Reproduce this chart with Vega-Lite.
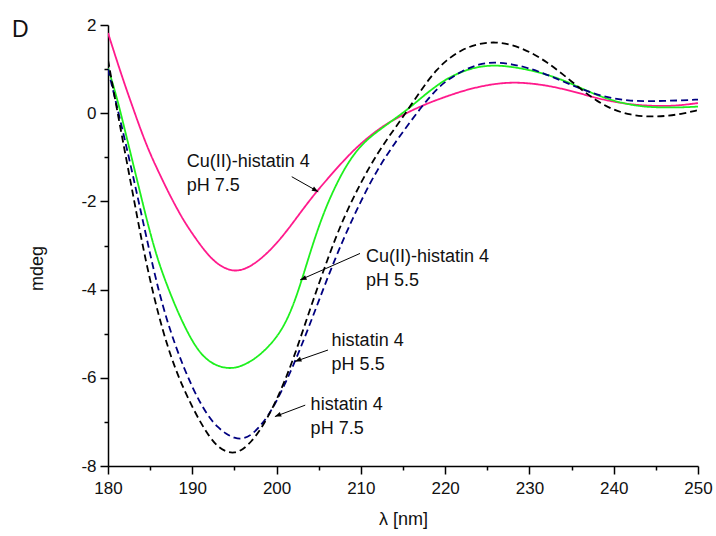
{
  "$schema": "https://vega.github.io/schema/vega-lite/v6.json",
  "width": 590,
  "height": 441,
  "autosize": {"type": "none"},
  "padding": {"left": 108, "top": 25, "right": 18, "bottom": 70},
  "background": "white",
  "config": {
    "view": {"stroke": null},
    "font": "Liberation Sans",
    "axis": {
      "domainColor": "#000000",
      "domainWidth": 1.5,
      "tickColor": "#000000",
      "tickWidth": 1.5,
      "labelFont": "Liberation Sans",
      "labelFontSize": 17,
      "labelColor": "#111111",
      "titleFont": "Liberation Sans",
      "titleFontSize": 18,
      "titleFontWeight": "normal",
      "titleColor": "#111111",
      "grid": false,
      "labelOverlap": false,
      "labelFlush": false,
      "labelBound": false
    }
  },
  "datasets": {
    "curves": [
      {"s": "Cu75", "nm": 180, "mdeg": 1.82}, {"s": "Cu75", "nm": 181, "mdeg": 1.22}, {"s": "Cu75", "nm": 182, "mdeg": 0.64}, {"s": "Cu75", "nm": 183, "mdeg": 0.1},
      {"s": "Cu75", "nm": 184, "mdeg": -0.44}, {"s": "Cu75", "nm": 185, "mdeg": -0.92}, {"s": "Cu75", "nm": 186, "mdeg": -1.33}, {"s": "Cu75", "nm": 187, "mdeg": -1.73},
      {"s": "Cu75", "nm": 188, "mdeg": -2.1}, {"s": "Cu75", "nm": 189, "mdeg": -2.44}, {"s": "Cu75", "nm": 190, "mdeg": -2.73}, {"s": "Cu75", "nm": 191, "mdeg": -3.0},
      {"s": "Cu75", "nm": 192, "mdeg": -3.24}, {"s": "Cu75", "nm": 193, "mdeg": -3.42}, {"s": "Cu75", "nm": 194, "mdeg": -3.53}, {"s": "Cu75", "nm": 195, "mdeg": -3.58},
      {"s": "Cu75", "nm": 196, "mdeg": -3.55}, {"s": "Cu75", "nm": 197, "mdeg": -3.46}, {"s": "Cu75", "nm": 198, "mdeg": -3.32}, {"s": "Cu75", "nm": 199, "mdeg": -3.15},
      {"s": "Cu75", "nm": 200, "mdeg": -2.95}, {"s": "Cu75", "nm": 201, "mdeg": -2.72}, {"s": "Cu75", "nm": 202, "mdeg": -2.47}, {"s": "Cu75", "nm": 203, "mdeg": -2.21},
      {"s": "Cu75", "nm": 204, "mdeg": -1.96}, {"s": "Cu75", "nm": 205, "mdeg": -1.72}, {"s": "Cu75", "nm": 206, "mdeg": -1.5}, {"s": "Cu75", "nm": 207, "mdeg": -1.28},
      {"s": "Cu75", "nm": 208, "mdeg": -1.07}, {"s": "Cu75", "nm": 209, "mdeg": -0.87}, {"s": "Cu75", "nm": 210, "mdeg": -0.69}, {"s": "Cu75", "nm": 211, "mdeg": -0.53},
      {"s": "Cu75", "nm": 212, "mdeg": -0.38}, {"s": "Cu75", "nm": 213, "mdeg": -0.25}, {"s": "Cu75", "nm": 214, "mdeg": -0.14}, {"s": "Cu75", "nm": 215, "mdeg": -0.04},
      {"s": "Cu75", "nm": 216, "mdeg": 0.06}, {"s": "Cu75", "nm": 218, "mdeg": 0.23}, {"s": "Cu75", "nm": 220, "mdeg": 0.37}, {"s": "Cu75", "nm": 222, "mdeg": 0.5},
      {"s": "Cu75", "nm": 224, "mdeg": 0.6}, {"s": "Cu75", "nm": 226, "mdeg": 0.67}, {"s": "Cu75", "nm": 228, "mdeg": 0.7}, {"s": "Cu75", "nm": 230, "mdeg": 0.68},
      {"s": "Cu75", "nm": 232, "mdeg": 0.63}, {"s": "Cu75", "nm": 234, "mdeg": 0.55}, {"s": "Cu75", "nm": 236, "mdeg": 0.45}, {"s": "Cu75", "nm": 238, "mdeg": 0.34},
      {"s": "Cu75", "nm": 240, "mdeg": 0.26}, {"s": "Cu75", "nm": 242, "mdeg": 0.2}, {"s": "Cu75", "nm": 244, "mdeg": 0.17}, {"s": "Cu75", "nm": 246, "mdeg": 0.16},
      {"s": "Cu75", "nm": 248, "mdeg": 0.18}, {"s": "Cu75", "nm": 250, "mdeg": 0.23},

      {"s": "Cu55", "nm": 180, "mdeg": 1.02}, {"s": "Cu55", "nm": 181, "mdeg": 0.4}, {"s": "Cu55", "nm": 182, "mdeg": -0.38}, {"s": "Cu55", "nm": 183, "mdeg": -1.16},
      {"s": "Cu55", "nm": 184, "mdeg": -1.95}, {"s": "Cu55", "nm": 185, "mdeg": -2.72}, {"s": "Cu55", "nm": 186, "mdeg": -3.38}, {"s": "Cu55", "nm": 187, "mdeg": -3.9},
      {"s": "Cu55", "nm": 188, "mdeg": -4.38}, {"s": "Cu55", "nm": 189, "mdeg": -4.8}, {"s": "Cu55", "nm": 190, "mdeg": -5.17}, {"s": "Cu55", "nm": 191, "mdeg": -5.45},
      {"s": "Cu55", "nm": 192, "mdeg": -5.63}, {"s": "Cu55", "nm": 193, "mdeg": -5.73}, {"s": "Cu55", "nm": 194, "mdeg": -5.78}, {"s": "Cu55", "nm": 195, "mdeg": -5.78},
      {"s": "Cu55", "nm": 196, "mdeg": -5.72}, {"s": "Cu55", "nm": 197, "mdeg": -5.62}, {"s": "Cu55", "nm": 198, "mdeg": -5.48}, {"s": "Cu55", "nm": 199, "mdeg": -5.3},
      {"s": "Cu55", "nm": 200, "mdeg": -5.08}, {"s": "Cu55", "nm": 201, "mdeg": -4.78}, {"s": "Cu55", "nm": 202, "mdeg": -4.35}, {"s": "Cu55", "nm": 203, "mdeg": -3.78},
      {"s": "Cu55", "nm": 204, "mdeg": -3.15}, {"s": "Cu55", "nm": 205, "mdeg": -2.57}, {"s": "Cu55", "nm": 206, "mdeg": -2.07}, {"s": "Cu55", "nm": 207, "mdeg": -1.65},
      {"s": "Cu55", "nm": 208, "mdeg": -1.28}, {"s": "Cu55", "nm": 209, "mdeg": -0.98}, {"s": "Cu55", "nm": 210, "mdeg": -0.74}, {"s": "Cu55", "nm": 211, "mdeg": -0.56},
      {"s": "Cu55", "nm": 212, "mdeg": -0.41}, {"s": "Cu55", "nm": 213, "mdeg": -0.27}, {"s": "Cu55", "nm": 214, "mdeg": -0.13}, {"s": "Cu55", "nm": 215, "mdeg": 0.01},
      {"s": "Cu55", "nm": 216, "mdeg": 0.16}, {"s": "Cu55", "nm": 217, "mdeg": 0.32}, {"s": "Cu55", "nm": 218, "mdeg": 0.48}, {"s": "Cu55", "nm": 219, "mdeg": 0.62},
      {"s": "Cu55", "nm": 220, "mdeg": 0.76}, {"s": "Cu55", "nm": 222, "mdeg": 0.95}, {"s": "Cu55", "nm": 224, "mdeg": 1.06}, {"s": "Cu55", "nm": 226, "mdeg": 1.09},
      {"s": "Cu55", "nm": 228, "mdeg": 1.05}, {"s": "Cu55", "nm": 230, "mdeg": 0.98}, {"s": "Cu55", "nm": 232, "mdeg": 0.88}, {"s": "Cu55", "nm": 234, "mdeg": 0.75},
      {"s": "Cu55", "nm": 236, "mdeg": 0.58}, {"s": "Cu55", "nm": 238, "mdeg": 0.41}, {"s": "Cu55", "nm": 240, "mdeg": 0.28}, {"s": "Cu55", "nm": 242, "mdeg": 0.19},
      {"s": "Cu55", "nm": 244, "mdeg": 0.14}, {"s": "Cu55", "nm": 246, "mdeg": 0.13}, {"s": "Cu55", "nm": 248, "mdeg": 0.13}, {"s": "Cu55", "nm": 250, "mdeg": 0.15},

      {"s": "H55", "nm": 180, "mdeg": 1.0}, {"s": "H55", "nm": 181, "mdeg": 0.2}, {"s": "H55", "nm": 182, "mdeg": -0.6}, {"s": "H55", "nm": 183, "mdeg": -1.45},
      {"s": "H55", "nm": 184, "mdeg": -2.32}, {"s": "H55", "nm": 185, "mdeg": -3.2}, {"s": "H55", "nm": 186, "mdeg": -4.02}, {"s": "H55", "nm": 187, "mdeg": -4.7},
      {"s": "H55", "nm": 188, "mdeg": -5.27}, {"s": "H55", "nm": 189, "mdeg": -5.77}, {"s": "H55", "nm": 190, "mdeg": -6.21}, {"s": "H55", "nm": 191, "mdeg": -6.59},
      {"s": "H55", "nm": 192, "mdeg": -6.9}, {"s": "H55", "nm": 193, "mdeg": -7.12}, {"s": "H55", "nm": 194, "mdeg": -7.27}, {"s": "H55", "nm": 195, "mdeg": -7.37},
      {"s": "H55", "nm": 196, "mdeg": -7.39}, {"s": "H55", "nm": 197, "mdeg": -7.3}, {"s": "H55", "nm": 198, "mdeg": -7.11}, {"s": "H55", "nm": 199, "mdeg": -6.86},
      {"s": "H55", "nm": 200, "mdeg": -6.53}, {"s": "H55", "nm": 201, "mdeg": -6.14}, {"s": "H55", "nm": 202, "mdeg": -5.71}, {"s": "H55", "nm": 203, "mdeg": -5.25},
      {"s": "H55", "nm": 204, "mdeg": -4.76}, {"s": "H55", "nm": 205, "mdeg": -4.26}, {"s": "H55", "nm": 206, "mdeg": -3.76}, {"s": "H55", "nm": 207, "mdeg": -3.28},
      {"s": "H55", "nm": 208, "mdeg": -2.83}, {"s": "H55", "nm": 209, "mdeg": -2.4}, {"s": "H55", "nm": 210, "mdeg": -2.0}, {"s": "H55", "nm": 211, "mdeg": -1.62},
      {"s": "H55", "nm": 212, "mdeg": -1.28}, {"s": "H55", "nm": 213, "mdeg": -0.97}, {"s": "H55", "nm": 214, "mdeg": -0.69}, {"s": "H55", "nm": 215, "mdeg": -0.42},
      {"s": "H55", "nm": 216, "mdeg": -0.16}, {"s": "H55", "nm": 217, "mdeg": 0.09}, {"s": "H55", "nm": 218, "mdeg": 0.33}, {"s": "H55", "nm": 219, "mdeg": 0.54},
      {"s": "H55", "nm": 220, "mdeg": 0.72}, {"s": "H55", "nm": 222, "mdeg": 0.96}, {"s": "H55", "nm": 224, "mdeg": 1.12}, {"s": "H55", "nm": 226, "mdeg": 1.16},
      {"s": "H55", "nm": 228, "mdeg": 1.11}, {"s": "H55", "nm": 230, "mdeg": 1.02}, {"s": "H55", "nm": 232, "mdeg": 0.88}, {"s": "H55", "nm": 234, "mdeg": 0.72},
      {"s": "H55", "nm": 236, "mdeg": 0.56}, {"s": "H55", "nm": 238, "mdeg": 0.42}, {"s": "H55", "nm": 240, "mdeg": 0.33}, {"s": "H55", "nm": 242, "mdeg": 0.28},
      {"s": "H55", "nm": 244, "mdeg": 0.27}, {"s": "H55", "nm": 246, "mdeg": 0.28}, {"s": "H55", "nm": 248, "mdeg": 0.29}, {"s": "H55", "nm": 250, "mdeg": 0.31},

      {"s": "H75", "nm": 180, "mdeg": 1.21}, {"s": "H75", "nm": 181, "mdeg": 0.15}, {"s": "H75", "nm": 182, "mdeg": -0.87}, {"s": "H75", "nm": 183, "mdeg": -1.88},
      {"s": "H75", "nm": 184, "mdeg": -2.9}, {"s": "H75", "nm": 185, "mdeg": -3.8}, {"s": "H75", "nm": 186, "mdeg": -4.58}, {"s": "H75", "nm": 187, "mdeg": -5.25},
      {"s": "H75", "nm": 188, "mdeg": -5.8}, {"s": "H75", "nm": 189, "mdeg": -6.26}, {"s": "H75", "nm": 190, "mdeg": -6.66}, {"s": "H75", "nm": 191, "mdeg": -7.02},
      {"s": "H75", "nm": 192, "mdeg": -7.33}, {"s": "H75", "nm": 193, "mdeg": -7.56}, {"s": "H75", "nm": 194, "mdeg": -7.68}, {"s": "H75", "nm": 195, "mdeg": -7.71},
      {"s": "H75", "nm": 196, "mdeg": -7.63}, {"s": "H75", "nm": 197, "mdeg": -7.45}, {"s": "H75", "nm": 198, "mdeg": -7.2}, {"s": "H75", "nm": 199, "mdeg": -6.88},
      {"s": "H75", "nm": 200, "mdeg": -6.5}, {"s": "H75", "nm": 201, "mdeg": -6.06}, {"s": "H75", "nm": 202, "mdeg": -5.56}, {"s": "H75", "nm": 203, "mdeg": -5.0},
      {"s": "H75", "nm": 204, "mdeg": -4.43}, {"s": "H75", "nm": 205, "mdeg": -3.88}, {"s": "H75", "nm": 206, "mdeg": -3.34}, {"s": "H75", "nm": 207, "mdeg": -2.83},
      {"s": "H75", "nm": 208, "mdeg": -2.37}, {"s": "H75", "nm": 209, "mdeg": -1.96}, {"s": "H75", "nm": 210, "mdeg": -1.58}, {"s": "H75", "nm": 211, "mdeg": -1.23},
      {"s": "H75", "nm": 212, "mdeg": -0.91}, {"s": "H75", "nm": 213, "mdeg": -0.62}, {"s": "H75", "nm": 214, "mdeg": -0.35}, {"s": "H75", "nm": 215, "mdeg": -0.08},
      {"s": "H75", "nm": 216, "mdeg": 0.2}, {"s": "H75", "nm": 217, "mdeg": 0.48}, {"s": "H75", "nm": 218, "mdeg": 0.75}, {"s": "H75", "nm": 219, "mdeg": 0.98},
      {"s": "H75", "nm": 220, "mdeg": 1.18}, {"s": "H75", "nm": 222, "mdeg": 1.45}, {"s": "H75", "nm": 224, "mdeg": 1.58}, {"s": "H75", "nm": 226, "mdeg": 1.62},
      {"s": "H75", "nm": 228, "mdeg": 1.55}, {"s": "H75", "nm": 230, "mdeg": 1.4}, {"s": "H75", "nm": 232, "mdeg": 1.17}, {"s": "H75", "nm": 234, "mdeg": 0.88},
      {"s": "H75", "nm": 236, "mdeg": 0.56}, {"s": "H75", "nm": 238, "mdeg": 0.27}, {"s": "H75", "nm": 240, "mdeg": 0.07}, {"s": "H75", "nm": 242, "mdeg": -0.04},
      {"s": "H75", "nm": 244, "mdeg": -0.08}, {"s": "H75", "nm": 246, "mdeg": -0.07}, {"s": "H75", "nm": 248, "mdeg": -0.02}, {"s": "H75", "nm": 250, "mdeg": 0.07}
    ],
    "labels": [
      {"label": "Cu(II)-histatin 4\npH 7.5", "nm": 189.33, "mdeg": -1.21},
      {"label": "Cu(II)-histatin 4\npH 5.5", "nm": 210.6, "mdeg": -3.37},
      {"label": "histatin 4\npH 5.5", "nm": 206.53, "mdeg": -5.29},
      {"label": "histatin 4\npH 7.5", "nm": 204.04, "mdeg": -6.73}
    ],
    "panel": [
      {"label": "D", "nm": 168.6, "mdeg": 1.73}
    ],
    "arrows": [
      {"a": "right", "x1": 201.8, "y1": -1.44, "x2": 204.95, "y2": -1.78},
      {"a": "left", "x1": 209.9, "y1": -3.18, "x2": 202.8, "y2": -3.78},
      {"a": "left", "x1": 206.1, "y1": -5.37, "x2": 202.2, "y2": -5.63},
      {"a": "left", "x1": 203.4, "y1": -6.62, "x2": 199.8, "y2": -6.88}
    ]
  },
  "layer": [
    {
      "data": {"name": "curves"},
      "mark": {"type": "line", "strokeWidth": 1.8, "interpolate": "basis", "clip": true},
      "encoding": {
        "x": {
          "field": "nm", "type": "quantitative",
          "scale": {"domain": [180, 250], "nice": false, "zero": false},
          "axis": {
            "values": [180, 185, 190, 195, 200, 205, 210, 215, 220, 225, 230, 235, 240, 245, 250],
            "labelExpr": "datum.value % 10 === 0 ? datum.label : ''",
            "tickSize": {"condition": {"test": "datum.value % 10 === 0", "value": 8}, "value": 4},
            "labelPadding": 6,
            "title": "λ [nm]",
            "titleY": 44
          }
        },
        "y": {
          "field": "mdeg", "type": "quantitative",
          "scale": {"domain": [-8, 2], "nice": false, "zero": false},
          "axis": {
            "values": [-8, -7, -6, -5, -4, -3, -2, -1, 0, 1, 2],
            "labelExpr": "datum.value % 2 === 0 ? replace(datum.label, '−', '-') : ''",
            "tickSize": {"condition": {"test": "datum.value % 2 === 0", "value": 8}, "value": 4},
            "labelPadding": 4,
            "title": "mdeg",
            "titleX": -62,
            "titleY": 243
          }
        },
        "color": {
          "field": "s", "type": "nominal",
          "scale": {"domain": ["Cu75", "Cu55", "H55", "H75"], "range": ["#ff1a8c", "#1ef01e", "#000080", "#000000"]},
          "legend": null
        },
        "strokeDash": {
          "field": "s", "type": "nominal",
          "scale": {"domain": ["Cu75", "Cu55", "H55", "H75"], "range": [[1, 0], [1, 0], [7, 4], [7, 4]]},
          "legend": null
        }
      }
    },
    {
      "data": {"name": "labels"},
      "mark": {"type": "text", "align": "left", "baseline": "alphabetic", "lineBreak": "\n", "lineHeight": 24, "fontSize": 18, "font": "Liberation Sans", "color": "#111111"},
      "encoding": {
        "x": {"field": "nm", "type": "quantitative"},
        "y": {"field": "mdeg", "type": "quantitative"},
        "text": {"field": "label"}
      }
    },
    {
      "data": {"name": "panel"},
      "mark": {"type": "text", "align": "left", "baseline": "alphabetic", "fontSize": 23, "font": "Liberation Sans", "color": "#111111", "clip": false},
      "encoding": {
        "x": {"field": "nm", "type": "quantitative"},
        "y": {"field": "mdeg", "type": "quantitative"},
        "text": {"field": "label"}
      }
    },
    {
      "data": {"name": "arrows"},
      "mark": {"type": "rule", "strokeWidth": 1, "color": "#000000"},
      "encoding": {
        "x": {"field": "x1", "type": "quantitative"},
        "y": {"field": "y1", "type": "quantitative"},
        "x2": {"field": "x2"},
        "y2": {"field": "y2"}
      }
    },
    {
      "data": {"name": "arrows"},
      "transform": [{"filter": "datum.a === 'right'"}],
      "mark": {"type": "point", "shape": "M0,0L-2,-0.8L-2,0.8Z", "filled": true, "color": "#000000", "size": 40, "angle": 29, "opacity": 1},
      "encoding": {
        "x": {"field": "x2", "type": "quantitative"},
        "y": {"field": "y2", "type": "quantitative"}
      }
    },
    {
      "data": {"name": "arrows"},
      "transform": [{"filter": "datum.a === 'left'"}],
      "mark": {"type": "point", "shape": "M0,0L-2,-0.8L-2,0.8Z", "filled": true, "color": "#000000", "size": 40, "angle": 158, "opacity": 1},
      "encoding": {
        "x": {"field": "x2", "type": "quantitative"},
        "y": {"field": "y2", "type": "quantitative"}
      }
    }
  ]
}
